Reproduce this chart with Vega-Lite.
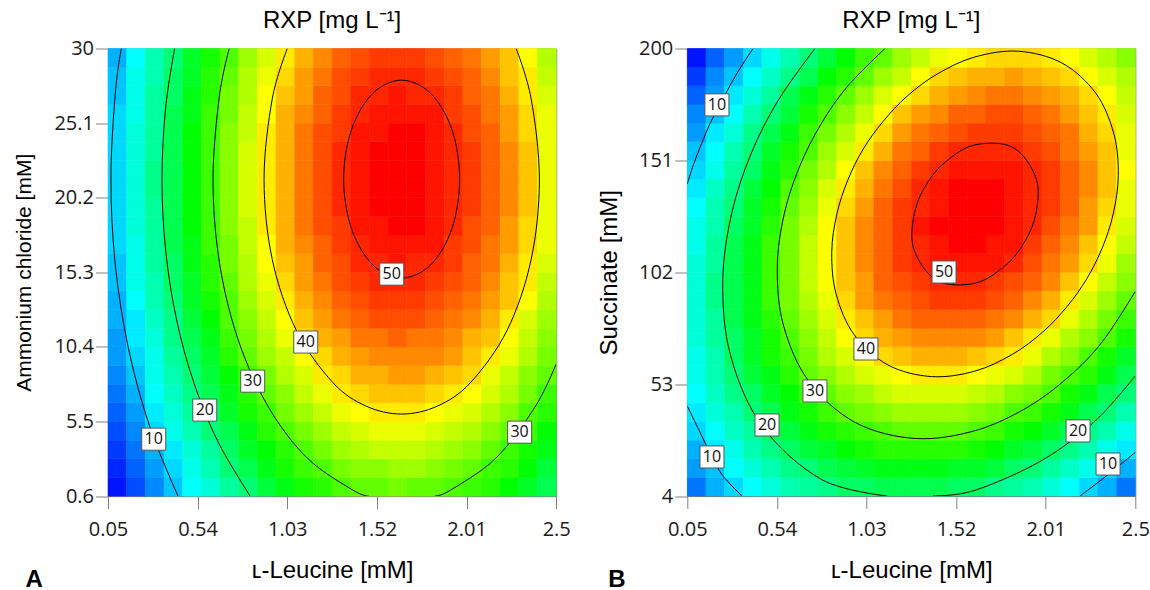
{
"$schema":"https://vega.github.io/schema/vega-lite/v6.json",
"background":"white",
"padding":{"left":12,"top":8.5,"right":0,"bottom":0},
"datasets":{
"heat":[
{"p":"A","j":0,"i":[0,1,2,3,4,5,6,7,8,9,10,11,12,13,14,15,16,17,18,19,20,21,22,23],"v":[1,4,7,10,13,15,18,20,23,25,27,28,30,31,31,32,31,31,30,29,28,26,24,22]},
{"p":"A","j":1,"i":[0,1,2,3,4,5,6,7,8,9,10,11,12,13,14,15,16,17,18,19,20,21,22,23],"v":[2,5,8,11,14,17,20,22,25,27,29,30,32,33,33,34,34,33,32,31,29,28,26,23]},
{"p":"A","j":2,"i":[0,1,2,3,4,5,6,7,8,9,10,11,12,13,14,15,16,17,18,19,20,21,22,23],"v":[3,6,9,12,15,18,21,24,26,28,30,32,34,35,36,36,36,35,34,33,31,29,27,25]},
{"p":"A","j":3,"i":[0,1,2,3,4,5,6,7,8,9,10,11,12,13,14,15,16,17,18,19,20,21,22,23],"v":[4,7,11,14,17,20,22,25,28,30,32,34,36,37,38,38,38,37,36,35,33,31,29,26]},
{"p":"A","j":4,"i":[0,1,2,3,4,5,6,7,8,9,10,11,12,13,14,15,16,17,18,19,20,21,22,23],"v":[5,8,12,15,18,21,24,27,29,32,34,36,38,39,40,40,40,39,38,37,35,33,30,28]},
{"p":"A","j":5,"i":[0,1,2,3,4,5,6,7,8,9,10,11,12,13,14,15,16,17,18,19,20,21,22,23],"v":[6,9,13,16,19,22,25,28,31,33,36,38,40,41,42,42,42,41,40,39,37,35,32,29]},
{"p":"A","j":6,"i":[0,1,2,3,4,5,6,7,8,9,10,11,12,13,14,15,16,17,18,19,20,21,22,23],"v":[7,10,14,17,20,23,26,29,32,35,37,40,41,43,43,44,44,43,42,41,38,36,33,31]},
{"p":"A","j":7,"i":[0,1,2,3,4,5,6,7,8,9,10,11,12,13,14,15,16,17,18,19,20,21,22,23],"v":[8,11,14,18,21,24,28,31,34,36,39,41,43,44,45,45,45,45,44,42,40,38,35,32]},
{"p":"A","j":8,"i":[0,1,2,3,4,5,6,7,8,9,10,11,12,13,14,15,16,17,18,19,20,21,22,23],"v":[8,12,15,19,22,25,29,32,35,38,41,43,44,46,46,47,46,46,45,43,42,39,36,33]},
{"p":"A","j":9,"i":[0,1,2,3,4,5,6,7,8,9,10,11,12,13,14,15,16,17,18,19,20,21,22,23],"v":[9,12,16,19,23,26,30,33,36,39,42,44,46,47,48,48,48,47,46,45,43,40,37,34]},
{"p":"A","j":10,"i":[0,1,2,3,4,5,6,7,8,9,10,11,12,13,14,15,16,17,18,19,20,21,22,23],"v":[9,13,17,20,24,27,30,34,37,40,43,45,47,48,49,49,49,48,47,46,44,42,39,35]},
{"p":"A","j":11,"i":[0,1,2,3,4,5,6,7,8,9,10,11,12,13,14,15,16,17,18,19,20,21,22,23],"v":[10,14,17,21,24,28,31,35,38,41,44,46,48,49,50,50,50,49,48,47,45,42,40,36]},
{"p":"A","j":12,"i":[0,1,2,3,4,5,6,7,8,9,10,11,12,13,14,15,16,17,18,19,20,21,22,23],"v":[10,14,18,21,25,28,32,35,39,42,44,47,48,50,50,51,50,50,49,47,46,43,40,37]},
{"p":"A","j":13,"i":[0,1,2,3,4,5,6,7,8,9,10,11,12,13,14,15,16,17,18,19,20,21,22,23],"v":[11,14,18,22,25,29,32,36,39,43,45,47,49,50,51,51,51,51,49,48,46,44,41,38]},
{"p":"A","j":14,"i":[0,1,2,3,4,5,6,7,8,9,10,11,12,13,14,15,16,17,18,19,20,21,22,23],"v":[11,15,18,22,26,29,33,36,40,43,46,48,49,51,51,52,52,51,50,48,47,44,41,38]},
{"p":"A","j":15,"i":[0,1,2,3,4,5,6,7,8,9,10,11,12,13,14,15,16,17,18,19,20,21,22,23],"v":[11,15,18,22,26,29,33,37,40,43,46,48,50,51,52,52,52,51,50,49,47,45,42,38]},
{"p":"A","j":16,"i":[0,1,2,3,4,5,6,7,8,9,10,11,12,13,14,15,16,17,18,19,20,21,22,23],"v":[11,15,19,22,26,29,33,37,40,43,46,48,50,51,52,52,52,51,50,49,47,45,42,38]},
{"p":"A","j":17,"i":[0,1,2,3,4,5,6,7,8,9,10,11,12,13,14,15,16,17,18,19,20,21,22,23],"v":[11,15,19,22,26,29,33,37,40,43,46,48,50,51,52,52,52,51,50,49,47,45,42,38]},
{"p":"A","j":18,"i":[0,1,2,3,4,5,6,7,8,9,10,11,12,13,14,15,16,17,18,19,20,21,22,23],"v":[11,15,18,22,26,29,33,37,40,43,46,48,50,51,52,52,52,51,50,49,47,45,42,38]},
{"p":"A","j":19,"i":[0,1,2,3,4,5,6,7,8,9,10,11,12,13,14,15,16,17,18,19,20,21,22,23],"v":[11,15,18,22,26,29,33,36,40,43,46,48,49,51,51,52,52,51,50,48,47,44,41,38]},
{"p":"A","j":20,"i":[0,1,2,3,4,5,6,7,8,9,10,11,12,13,14,15,16,17,18,19,20,21,22,23],"v":[11,14,18,22,25,29,32,36,39,43,45,47,49,50,51,51,51,51,49,48,46,44,41,38]},
{"p":"A","j":21,"i":[0,1,2,3,4,5,6,7,8,9,10,11,12,13,14,15,16,17,18,19,20,21,22,23],"v":[10,14,18,21,25,28,32,35,39,42,44,47,48,50,50,51,50,50,49,47,46,43,40,37]},
{"p":"A","j":22,"i":[0,1,2,3,4,5,6,7,8,9,10,11,12,13,14,15,16,17,18,19,20,21,22,23],"v":[10,14,17,21,24,28,31,35,38,41,44,46,48,49,50,50,50,49,48,47,45,42,40,36]},
{"p":"A","j":23,"i":[0,1,2,3,4,5,6,7,8,9,10,11,12,13,14,15,16,17,18,19,20,21,22,23],"v":[9,13,17,20,24,27,30,34,37,40,43,45,47,48,49,49,49,48,47,46,44,42,39,35]},
{"p":"B","j":0,"i":[0,1,2,3,4,5,6,7,8,9,10,11,12,13,14,15,16,17,18,19,20,21,22,23],"v":[6,9,11,13,15,17,18,19,21,21,22,22,22,22,21,21,19,18,17,15,13,11,9,6]},
{"p":"B","j":1,"i":[0,1,2,3,4,5,6,7,8,9,10,11,12,13,14,15,16,17,18,19,20,21,22,23],"v":[8,10,13,15,17,19,20,22,23,24,25,25,25,25,24,24,23,21,20,18,16,14,11,9]},
{"p":"B","j":2,"i":[0,1,2,3,4,5,6,7,8,9,10,11,12,13,14,15,16,17,18,19,20,21,22,23],"v":[9,12,14,17,19,21,23,24,26,27,28,28,28,28,28,27,26,24,23,21,19,17,14,12]},
{"p":"B","j":3,"i":[0,1,2,3,4,5,6,7,8,9,10,11,12,13,14,15,16,17,18,19,20,21,22,23],"v":[11,13,16,18,21,23,25,27,28,29,30,31,31,31,31,30,29,27,26,24,22,19,17,14]},
{"p":"B","j":4,"i":[0,1,2,3,4,5,6,7,8,9,10,11,12,13,14,15,16,17,18,19,20,21,22,23],"v":[12,15,17,20,22,25,27,29,31,32,33,34,34,34,34,33,32,30,29,27,25,22,20,17]},
{"p":"B","j":5,"i":[0,1,2,3,4,5,6,7,8,9,10,11,12,13,14,15,16,17,18,19,20,21,22,23],"v":[13,16,19,21,24,26,29,31,33,34,36,37,37,37,37,36,35,33,32,30,27,25,22,20]},
{"p":"B","j":6,"i":[0,1,2,3,4,5,6,7,8,9,10,11,12,13,14,15,16,17,18,19,20,21,22,23],"v":[14,17,20,23,25,28,31,33,35,37,38,39,40,40,40,39,38,37,35,32,30,28,25,22]},
{"p":"B","j":7,"i":[0,1,2,3,4,5,6,7,8,9,10,11,12,13,14,15,16,17,18,19,20,21,22,23],"v":[14,17,21,24,27,29,32,35,37,39,41,42,43,43,43,42,41,40,38,35,33,30,27,24]},
{"p":"B","j":8,"i":[0,1,2,3,4,5,6,7,8,9,10,11,12,13,14,15,16,17,18,19,20,21,22,23],"v":[15,18,21,24,27,30,33,36,39,41,43,44,45,45,45,45,44,42,40,38,35,33,30,27]},
{"p":"B","j":9,"i":[0,1,2,3,4,5,6,7,8,9,10,11,12,13,14,15,16,17,18,19,20,21,22,23],"v":[15,18,22,25,28,31,34,37,40,42,44,46,47,47,47,47,46,45,43,41,38,35,32,29]},
{"p":"B","j":10,"i":[0,1,2,3,4,5,6,7,8,9,10,11,12,13,14,15,16,17,18,19,20,21,22,23],"v":[15,19,22,25,29,32,35,38,41,44,46,47,48,49,49,49,48,47,45,43,40,37,34,31]},
{"p":"B","j":11,"i":[0,1,2,3,4,5,6,7,8,9,10,11,12,13,14,15,16,17,18,19,20,21,22,23],"v":[15,19,22,25,29,32,36,39,42,44,47,48,49,50,50,50,49,48,47,45,42,39,36,33]},
{"p":"B","j":12,"i":[0,1,2,3,4,5,6,7,8,9,10,11,12,13,14,15,16,17,18,19,20,21,22,23],"v":[15,18,22,25,29,32,36,39,42,45,47,49,50,51,51,51,51,50,48,46,44,41,38,34]},
{"p":"B","j":13,"i":[0,1,2,3,4,5,6,7,8,9,10,11,12,13,14,15,16,17,18,19,20,21,22,23],"v":[14,18,22,25,29,32,36,39,42,45,47,49,50,51,52,52,51,51,49,47,45,42,39,36]},
{"p":"B","j":14,"i":[0,1,2,3,4,5,6,7,8,9,10,11,12,13,14,15,16,17,18,19,20,21,22,23],"v":[14,17,21,24,28,32,35,39,42,45,47,49,51,52,52,52,52,51,50,48,46,44,40,37]},
{"p":"B","j":15,"i":[0,1,2,3,4,5,6,7,8,9,10,11,12,13,14,15,16,17,18,19,20,21,22,23],"v":[13,17,20,24,27,31,34,38,41,44,47,49,50,51,52,52,52,51,50,49,47,44,41,38]},
{"p":"B","j":16,"i":[0,1,2,3,4,5,6,7,8,9,10,11,12,13,14,15,16,17,18,19,20,21,22,23],"v":[12,16,19,23,26,30,33,37,40,43,46,48,50,51,52,52,52,51,50,49,47,45,42,38]},
{"p":"B","j":17,"i":[0,1,2,3,4,5,6,7,8,9,10,11,12,13,14,15,16,17,18,19,20,21,22,23],"v":[11,14,18,21,25,28,32,35,39,42,45,47,49,50,51,51,51,51,50,49,47,45,42,39]},
{"p":"B","j":18,"i":[0,1,2,3,4,5,6,7,8,9,10,11,12,13,14,15,16,17,18,19,20,21,22,23],"v":[10,13,17,20,24,27,30,34,37,40,43,46,47,49,50,50,50,50,49,48,46,44,42,38]},
{"p":"B","j":19,"i":[0,1,2,3,4,5,6,7,8,9,10,11,12,13,14,15,16,17,18,19,20,21,22,23],"v":[8,12,15,19,22,25,29,32,35,38,41,44,46,47,48,49,49,49,48,47,46,43,41,38]},
{"p":"B","j":20,"i":[0,1,2,3,4,5,6,7,8,9,10,11,12,13,14,15,16,17,18,19,20,21,22,23],"v":[7,10,13,17,20,23,27,30,33,36,39,42,44,45,47,47,48,48,47,46,44,42,40,37]},
{"p":"B","j":21,"i":[0,1,2,3,4,5,6,7,8,9,10,11,12,13,14,15,16,17,18,19,20,21,22,23],"v":[5,8,12,15,18,22,25,28,31,34,37,39,41,43,44,45,46,46,45,44,43,41,39,36]},
{"p":"B","j":22,"i":[0,1,2,3,4,5,6,7,8,9,10,11,12,13,14,15,16,17,18,19,20,21,22,23],"v":[3,7,10,13,16,19,22,26,28,31,34,36,39,41,42,43,43,44,43,42,41,39,37,35]},
{"p":"B","j":23,"i":[0,1,2,3,4,5,6,7,8,9,10,11,12,13,14,15,16,17,18,19,20,21,22,23],"v":[1,5,8,11,14,17,20,23,26,29,31,34,36,38,39,40,41,41,41,40,39,37,35,33]}
],
"cont":[
{"p":"A","c":"A10","k":"o","o":0,"x":0.123,"y":30},{"p":"A","c":"A10","k":"o","o":1,"x":0.090,"y":27.08},{"p":"A","c":"A10","k":"o","o":2,"x":0.066,"y":21.42},{"p":"A","c":"A10","k":"o","o":3,"x":0.090,"y":15.77},{"p":"A","c":"A10","k":"o","o":4,"x":0.162,"y":10.28},{"p":"A","c":"A10","k":"o","o":5,"x":0.279,"y":5.13},{"p":"A","c":"A10","k":"o","o":6,"x":0.433,"y":0.6},
{"p":"A","c":"A20","k":"o","o":0,"x":0.414,"y":30},{"p":"A","c":"A20","k":"o","o":1,"x":0.365,"y":26.09},{"p":"A","c":"A20","k":"o","o":2,"x":0.345,"y":21.42},{"p":"A","c":"A20","k":"o","o":3,"x":0.365,"y":16.76},{"p":"A","c":"A20","k":"o","o":4,"x":0.424,"y":12.23},{"p":"A","c":"A20","k":"o","o":5,"x":0.521,"y":7.99},{"p":"A","c":"A20","k":"o","o":6,"x":0.652,"y":4.15},{"p":"A","c":"A20","k":"o","o":7,"x":0.827,"y":0.6},
{"p":"A","c":"A30a","k":"o","o":0,"x":0.713,"y":30},{"p":"A","c":"A30a","k":"o","o":1,"x":0.659,"y":26.89},{"p":"A","c":"A30a","k":"o","o":2,"x":0.624,"y":21.42},{"p":"A","c":"A30a","k":"o","o":3,"x":0.659,"y":15.95},{"p":"A","c":"A30a","k":"o","o":4,"x":0.762,"y":10.85},{"p":"A","c":"A30a","k":"o","o":5,"x":0.926,"y":6.47},{"p":"A","c":"A30a","k":"o","o":6,"x":1.139,"y":3.10},{"p":"A","c":"A30a","k":"o","o":7,"x":1.389,"y":0.99},{"p":"A","c":"A30a","k":"o","o":8,"x":1.475,"y":0.6},
{"p":"A","c":"A30b","k":"o","o":0,"x":1.836,"y":0.6},{"p":"A","c":"A30b","k":"o","o":1,"x":1.922,"y":0.99},{"p":"A","c":"A30b","k":"o","o":2,"x":2.171,"y":3.10},{"p":"A","c":"A30b","k":"o","o":3,"x":2.385,"y":6.47},{"p":"A","c":"A30b","k":"o","o":4,"x":2.5,"y":9.28},
{"p":"A","c":"A40","k":"o","o":0,"x":1.030,"y":30},{"p":"A","c":"A40","k":"o","o":1,"x":0.948,"y":26.70},{"p":"A","c":"A40","k":"o","o":2,"x":0.903,"y":21.42},{"p":"A","c":"A40","k":"o","o":3,"x":0.948,"y":16.14},{"p":"A","c":"A40","k":"o","o":4,"x":1.079,"y":11.50},{"p":"A","c":"A40","k":"o","o":5,"x":1.279,"y":8.06},{"p":"A","c":"A40","k":"o","o":6,"x":1.461,"y":6.51},{"p":"A","c":"A40","k":"o","o":7,"x":1.655,"y":5.99},{"p":"A","c":"A40","k":"o","o":8,"x":1.850,"y":6.51},{"p":"A","c":"A40","k":"o","o":9,"x":2.032,"y":8.06},{"p":"A","c":"A40","k":"o","o":10,"x":2.232,"y":11.50},{"p":"A","c":"A40","k":"o","o":11,"x":2.363,"y":16.14},{"p":"A","c":"A40","k":"o","o":12,"x":2.408,"y":21.42},{"p":"A","c":"A40","k":"o","o":13,"x":2.363,"y":26.70},{"p":"A","c":"A40","k":"o","o":14,"x":2.281,"y":30},
{"p":"A","c":"A50","k":"c","o":0,"x":1.972,"y":21.42},{"p":"A","c":"A50","k":"c","o":1,"x":1.930,"y":18.17},{"p":"A","c":"A50","k":"c","o":2,"x":1.814,"y":15.79},{"p":"A","c":"A50","k":"c","o":3,"x":1.655,"y":14.92},{"p":"A","c":"A50","k":"c","o":4,"x":1.497,"y":15.79},{"p":"A","c":"A50","k":"c","o":5,"x":1.381,"y":18.17},{"p":"A","c":"A50","k":"c","o":6,"x":1.338,"y":21.42},{"p":"A","c":"A50","k":"c","o":7,"x":1.381,"y":24.67},{"p":"A","c":"A50","k":"c","o":8,"x":1.497,"y":27.05},{"p":"A","c":"A50","k":"c","o":9,"x":1.655,"y":27.92},{"p":"A","c":"A50","k":"c","o":10,"x":1.814,"y":27.05},{"p":"A","c":"A50","k":"c","o":11,"x":1.930,"y":24.67},
{"p":"B","c":"B10a","k":"o","o":0,"x":0.410,"y":200},{"p":"B","c":"B10a","k":"o","o":1,"x":0.314,"y":188.1},{"p":"B","c":"B10a","k":"o","o":2,"x":0.188,"y":169.3},{"p":"B","c":"B10a","k":"o","o":3,"x":0.134,"y":159.5},{"p":"B","c":"B10a","k":"o","o":4,"x":0.084,"y":149.2},{"p":"B","c":"B10a","k":"o","o":5,"x":0.05,"y":140.7},
{"p":"B","c":"B10b","k":"o","o":0,"x":0.05,"y":43.4},{"p":"B","c":"B10b","k":"o","o":1,"x":0.119,"y":32.0},{"p":"B","c":"B10b","k":"o","o":2,"x":0.185,"y":21.1},{"p":"B","c":"B10b","k":"o","o":3,"x":0.245,"y":12.8},{"p":"B","c":"B10b","k":"o","o":4,"x":0.349,"y":4.0},
{"p":"B","c":"B10c","k":"o","o":0,"x":2.198,"y":4.0},{"p":"B","c":"B10c","k":"o","o":1,"x":2.307,"y":10.6},{"p":"B","c":"B10c","k":"o","o":2,"x":2.416,"y":17.6},{"p":"B","c":"B10c","k":"o","o":3,"x":2.5,"y":23.1},
{"p":"B","c":"B20a","k":"o","o":0,"x":2.5,"y":56.6},{"p":"B","c":"B20a","k":"o","o":1,"x":2.278,"y":36.7},{"p":"B","c":"B20a","k":"o","o":2,"x":1.985,"y":19.4},{"p":"B","c":"B20a","k":"o","o":3,"x":1.623,"y":6.5},{"p":"B","c":"B20a","k":"o","o":4,"x":1.394,"y":4.0},
{"p":"B","c":"B20b","k":"o","o":0,"x":1.142,"y":4.0},{"p":"B","c":"B20b","k":"o","o":1,"x":0.785,"y":11.2},{"p":"B","c":"B20b","k":"o","o":2,"x":0.461,"y":34.4},{"p":"B","c":"B20b","k":"o","o":3,"x":0.286,"y":65.7},{"p":"B","c":"B20b","k":"o","o":4,"x":0.244,"y":97.9},{"p":"B","c":"B20b","k":"o","o":5,"x":0.292,"y":127.5},{"p":"B","c":"B20b","k":"o","o":6,"x":0.398,"y":153.8},{"p":"B","c":"B20b","k":"o","o":7,"x":0.547,"y":177.3},{"p":"B","c":"B20b","k":"o","o":8,"x":0.748,"y":200},
{"p":"B","c":"B30","k":"o","o":0,"x":2.5,"y":93.6},{"p":"B","c":"B30","k":"o","o":1,"x":2.321,"y":71.7},{"p":"B","c":"B30","k":"o","o":2,"x":2.137,"y":56.3},{"p":"B","c":"B30","k":"o","o":3,"x":1.907,"y":42.7},{"p":"B","c":"B30","k":"o","o":4,"x":1.623,"y":32.6},{"p":"B","c":"B30","k":"o","o":5,"x":1.295,"y":29.2},{"p":"B","c":"B30","k":"o","o":6,"x":0.966,"y":36.3},{"p":"B","c":"B30","k":"o","o":7,"x":0.712,"y":54.5},{"p":"B","c":"B30","k":"o","o":8,"x":0.575,"y":79.0},{"p":"B","c":"B30","k":"o","o":9,"x":0.542,"y":104.3},{"p":"B","c":"B30","k":"o","o":10,"x":0.580,"y":127.5},{"p":"B","c":"B30","k":"o","o":11,"x":0.663,"y":148.1},{"p":"B","c":"B30","k":"o","o":12,"x":0.779,"y":166.6},{"p":"B","c":"B30","k":"o","o":13,"x":0.926,"y":183.4},{"p":"B","c":"B30","k":"o","o":14,"x":1.131,"y":200},
{"p":"B","c":"B40","k":"c","o":0,"x":2.379,"y":127.5},{"p":"B","c":"B40","k":"c","o":1,"x":2.319,"y":112.6},{"p":"B","c":"B40","k":"c","o":2,"x":2.235,"y":99.2},{"p":"B","c":"B40","k":"c","o":3,"x":2.128,"y":87.1},{"p":"B","c":"B40","k":"c","o":4,"x":1.995,"y":75.9},{"p":"B","c":"B40","k":"c","o":5,"x":1.829,"y":66.1},{"p":"B","c":"B40","k":"c","o":6,"x":1.623,"y":58.7},{"p":"B","c":"B40","k":"c","o":7,"x":1.385,"y":56.3},{"p":"B","c":"B40","k":"c","o":8,"x":1.147,"y":61.4},{"p":"B","c":"B40","k":"c","o":9,"x":0.963,"y":74.6},{"p":"B","c":"B40","k":"c","o":10,"x":0.864,"y":92.4},{"p":"B","c":"B40","k":"c","o":11,"x":0.840,"y":110.7},{"p":"B","c":"B40","k":"c","o":12,"x":0.868,"y":127.5},{"p":"B","c":"B40","k":"c","o":13,"x":0.928,"y":142.4},{"p":"B","c":"B40","k":"c","o":14,"x":1.011,"y":155.8},{"p":"B","c":"B40","k":"c","o":15,"x":1.119,"y":167.9},{"p":"B","c":"B40","k":"c","o":16,"x":1.252,"y":179.1},{"p":"B","c":"B40","k":"c","o":17,"x":1.418,"y":188.9},{"p":"B","c":"B40","k":"c","o":18,"x":1.623,"y":196.3},{"p":"B","c":"B40","k":"c","o":19,"x":1.862,"y":198.8},{"p":"B","c":"B40","k":"c","o":20,"x":2.100,"y":193.6},{"p":"B","c":"B40","k":"c","o":21,"x":2.284,"y":180.4},{"p":"B","c":"B40","k":"c","o":22,"x":2.383,"y":162.6},{"p":"B","c":"B40","k":"c","o":23,"x":2.407,"y":144.3},
{"p":"B","c":"B50","k":"c","o":0,"x":1.956,"y":127.5},{"p":"B","c":"B50","k":"c","o":1,"x":1.893,"y":115.1},{"p":"B","c":"B50","k":"c","o":2,"x":1.787,"y":104.8},{"p":"B","c":"B50","k":"c","o":3,"x":1.623,"y":97.2},{"p":"B","c":"B50","k":"c","o":4,"x":1.414,"y":98.4},{"p":"B","c":"B50","k":"c","o":5,"x":1.289,"y":112.1},{"p":"B","c":"B50","k":"c","o":6,"x":1.291,"y":127.5},{"p":"B","c":"B50","k":"c","o":7,"x":1.354,"y":140.0},{"p":"B","c":"B50","k":"c","o":8,"x":1.460,"y":150.2},{"p":"B","c":"B50","k":"c","o":9,"x":1.623,"y":157.8},{"p":"B","c":"B50","k":"c","o":10,"x":1.833,"y":156.6},{"p":"B","c":"B50","k":"c","o":11,"x":1.958,"y":143.0}
],
"lab":[
{"p":"A","x":1.601,"y":15.18,"t":"50"},{"p":"A","x":1.131,"y":10.72,"t":"40"},{"p":"A","x":0.841,"y":8.15,"t":"30"},{"p":"A","x":0.579,"y":6.25,"t":"20"},{"p":"A","x":0.300,"y":4.34,"t":"10"},{"p":"A","x":2.300,"y":4.80,"t":"30"},
{"p":"B","x":0.212,"y":175.3,"t":"10"},{"p":"B","x":1.454,"y":102.1,"t":"50"},{"p":"B","x":1.027,"y":68.4,"t":"40"},{"p":"B","x":0.748,"y":50.0,"t":"30"},{"p":"B","x":0.486,"y":35.1,"t":"20"},{"p":"B","x":0.185,"y":21.1,"t":"10"},{"p":"B","x":2.187,"y":32.5,"t":"20"},{"p":"B","x":2.351,"y":18.0,"t":"10"}
]
},
"spacing":25.3,
"hconcat":[
{
"title":{"text":"A","orient":"bottom","anchor":"start","frame":"bounds","font":"Liberation Sans","fontSize":24,"fontWeight":"bold","color":"#000","baseline":"top","offset":-15,"dx":13},
"vconcat":[{
"width":448.2,"height":447.6,
"title":{"text":"RXP [mg L⁻¹]","frame":"group","anchor":"middle","baseline":"alphabetic","offset":-13.5,"font":"Liberation Sans","fontSize":24,"fontWeight":"normal","color":"#000"},
"resolve":{"scale":{"x":"independent","y":"independent"}},
"layer":[
{"data":{"name":"heat"},"transform":[{"filter":"datum.p==='A'"},{"flatten":["i","v"]}],
"mark":{"type":"rect","strokeWidth":0.6},
"encoding":{
"x":{"field":"i","type":"ordinal","axis":null,"scale":{"paddingInner":0,"paddingOuter":0}},
"y":{"field":"j","type":"ordinal","axis":null,"sort":"descending","scale":{"paddingInner":0,"paddingOuter":0}},
"fill":{"field":"v","type":"quantitative","legend":null,"scale":{"domain":[0,13,26,39,52],"range":["#0000ff","#00ffff","#00ff00","#ffff00","#ff0000"],"interpolate":"rgb","clamp":true}},
"stroke":{"field":"v","type":"quantitative","legend":null,"scale":{"domain":[0,13,26,39,52],"range":["#0000ff","#00ffff","#00ff00","#ffff00","#ff0000"],"interpolate":"rgb","clamp":true}}
}},
{"layer":[
{"data":{"name":"cont"},"transform":[{"filter":"datum.p==='A' && datum.k==='o'"}],
"mark":{"type":"line","interpolate":"cardinal","color":"#000","strokeWidth":1,"clip":true},
"encoding":{
"x":{"field":"x","type":"quantitative","scale":{"domain":[0.05,2.5],"nice":false,"zero":false},
"axis":{"orient":"bottom","values":[0.05,0.54,1.03,1.52,2.01,2.5],"format":".2~f","title":"ʟ-Leucine [mM]","labelPadding":11,"minExtent":40,"maxExtent":40,"titlePadding":22}},
"y":{"field":"y","type":"quantitative","scale":{"domain":[0.6,30],"nice":false,"zero":false},
"axis":{"orient":"left","values":[0.6,5.5,10.4,15.3,20.2,25.1,30],"format":".1~f","title":"Ammonium chloride [mM]","titleFontSize":21,"labelPadding":2,"minExtent":50,"maxExtent":50,"titlePadding":24}},
"detail":{"field":"c"},"order":{"field":"o"}}},
{"data":{"name":"cont"},"transform":[{"filter":"datum.p==='A' && datum.k==='c'"}],
"mark":{"type":"line","interpolate":"cardinal-closed","color":"#000","strokeWidth":1,"clip":true},
"encoding":{"x":{"field":"x","type":"quantitative"},"y":{"field":"y","type":"quantitative"},"detail":{"field":"c"},"order":{"field":"o"}}},
{"data":{"name":"lab"},"transform":[{"filter":"datum.p==='A'"}],
"mark":{"type":"point","shape":"M-1,-0.92H1V0.92H-1Z","size":576,"filled":true,"fill":"#ffffff","stroke":"#555555","strokeWidth":1,"opacity":1},
"encoding":{"x":{"field":"x","type":"quantitative"},"y":{"field":"y","type":"quantitative"}}},
{"data":{"name":"lab"},"transform":[{"filter":"datum.p==='A'"}],
"mark":{"type":"text","font":"Open Sans","fontSize":16,"color":"#111111","align":"center","baseline":"middle"},
"encoding":{"x":{"field":"x","type":"quantitative"},"y":{"field":"y","type":"quantitative"},"text":{"field":"t"}}}
]}
]
}]
},
{
"title":{"text":"B","orient":"bottom","anchor":"start","frame":"bounds","font":"Liberation Sans","fontSize":24,"fontWeight":"bold","color":"#000","baseline":"top","offset":-15,"dx":11},
"vconcat":[{
"width":448,"height":447.5,
"title":{"text":"RXP [mg L⁻¹]","frame":"group","anchor":"middle","baseline":"alphabetic","offset":-13.5,"font":"Liberation Sans","fontSize":24,"fontWeight":"normal","color":"#000"},
"resolve":{"scale":{"x":"independent","y":"independent"}},
"layer":[
{"data":{"name":"heat"},"transform":[{"filter":"datum.p==='B'"},{"flatten":["i","v"]}],
"mark":{"type":"rect","strokeWidth":0.6},
"encoding":{
"x":{"field":"i","type":"ordinal","axis":null,"scale":{"paddingInner":0,"paddingOuter":0}},
"y":{"field":"j","type":"ordinal","axis":null,"sort":"descending","scale":{"paddingInner":0,"paddingOuter":0}},
"fill":{"field":"v","type":"quantitative","legend":null,"scale":{"domain":[0,13,26,39,52],"range":["#0000ff","#00ffff","#00ff00","#ffff00","#ff0000"],"interpolate":"rgb","clamp":true}},
"stroke":{"field":"v","type":"quantitative","legend":null,"scale":{"domain":[0,13,26,39,52],"range":["#0000ff","#00ffff","#00ff00","#ffff00","#ff0000"],"interpolate":"rgb","clamp":true}}
}},
{"layer":[
{"data":{"name":"cont"},"transform":[{"filter":"datum.p==='B' && datum.k==='o'"}],
"mark":{"type":"line","interpolate":"cardinal","color":"#000","strokeWidth":1,"clip":true},
"encoding":{
"x":{"field":"x","type":"quantitative","scale":{"domain":[0.05,2.5],"nice":false,"zero":false},
"axis":{"orient":"bottom","values":[0.05,0.54,1.03,1.52,2.01,2.5],"format":".2~f","title":"ʟ-Leucine [mM]","labelPadding":11,"minExtent":40,"maxExtent":40,"titlePadding":22}},
"y":{"field":"y","type":"quantitative","scale":{"domain":[4,200],"nice":false,"zero":false},
"axis":{"orient":"left","values":[4,53,102,151,200],"format":"d","title":"Succinate [mM]","labelPadding":2,"minExtent":50,"maxExtent":50,"titlePadding":15.6}},
"detail":{"field":"c"},"order":{"field":"o"}}},
{"data":{"name":"cont"},"transform":[{"filter":"datum.p==='B' && datum.k==='c'"}],
"mark":{"type":"line","interpolate":"cardinal-closed","color":"#000","strokeWidth":1,"clip":true},
"encoding":{"x":{"field":"x","type":"quantitative"},"y":{"field":"y","type":"quantitative"},"detail":{"field":"c"},"order":{"field":"o"}}},
{"data":{"name":"lab"},"transform":[{"filter":"datum.p==='B'"}],
"mark":{"type":"point","shape":"M-1,-0.92H1V0.92H-1Z","size":576,"filled":true,"fill":"#ffffff","stroke":"#555555","strokeWidth":1,"opacity":1},
"encoding":{"x":{"field":"x","type":"quantitative"},"y":{"field":"y","type":"quantitative"}}},
{"data":{"name":"lab"},"transform":[{"filter":"datum.p==='B'"}],
"mark":{"type":"text","font":"Open Sans","fontSize":16,"color":"#111111","align":"center","baseline":"middle"},
"encoding":{"x":{"field":"x","type":"quantitative"},"y":{"field":"y","type":"quantitative"},"text":{"field":"t"}}}
]}
]
}]
}
],
"config":{
"view":{"stroke":"#7a7a7a","strokeWidth":1},
"axis":{"grid":false,"domain":false,"tickColor":"#808080","tickWidth":1,"tickSize":12.5,"labelFont":"Open Sans","labelFontSize":20,"labelColor":"#1a1a1a","labelFlush":false,"labelOverlap":false,"labelBound":false,"titleFont":"Liberation Sans","titleFontSize":24,"titleFontWeight":"normal","titleColor":"#000"},
"title":{"font":"Liberation Sans","fontSize":24,"fontWeight":"normal","color":"#000"}
}
}
